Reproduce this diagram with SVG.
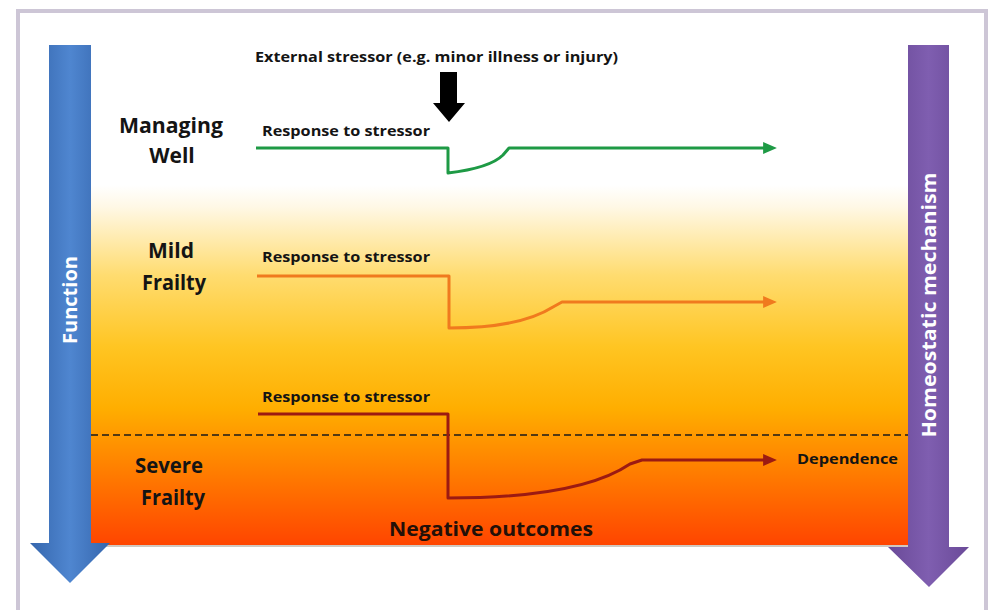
<svg xmlns="http://www.w3.org/2000/svg" width="992" height="610" viewBox="0 0 992 610">
<defs>
<linearGradient id="bg" x1="0" y1="0" x2="0" y2="1">
<stop offset="0" stop-color="#ffffff"/>
<stop offset="0.06" stop-color="#fff8e6"/>
<stop offset="0.25" stop-color="#ffdc70"/>
<stop offset="0.45" stop-color="#ffc522"/>
<stop offset="0.62" stop-color="#ffae00"/>
<stop offset="0.75" stop-color="#ff8a00"/>
<stop offset="1" stop-color="#ff4500"/>
</linearGradient>
<linearGradient id="blue" x1="0" y1="0" x2="1" y2="0">
<stop offset="0" stop-color="#3566ad"/>
<stop offset="0.5" stop-color="#4f86d0"/>
<stop offset="1" stop-color="#3566ad"/>
</linearGradient>
<linearGradient id="purple" x1="0" y1="0" x2="1" y2="0">
<stop offset="0" stop-color="#6a4a98"/>
<stop offset="0.5" stop-color="#7f5eb0"/>
<stop offset="1" stop-color="#6a4a98"/>
</linearGradient>
<marker id="mg" markerWidth="4.6" markerHeight="4" refX="0.3" refY="2" orient="auto" markerUnits="strokeWidth" viewBox="0 0 4.6 4"><path d="M0,0 L4.6,2 L0,4 Z" fill="#1e9a45"/></marker>
<marker id="mo" markerWidth="4.6" markerHeight="4" refX="0.3" refY="2" orient="auto" markerUnits="strokeWidth" viewBox="0 0 4.6 4"><path d="M0,0 L4.6,2 L0,4 Z" fill="#f07a1e"/></marker>
<marker id="mr" markerWidth="4.6" markerHeight="4" refX="0.3" refY="2" orient="auto" markerUnits="strokeWidth" viewBox="0 0 4.6 4"><path d="M0,0 L4.6,2 L0,4 Z" fill="#9c1a12"/></marker>
<style>
.t{font-family:"Open Sans","Liberation Sans",sans-serif;font-weight:bold;fill:#141414}
.lab{font-size:21px;text-anchor:middle}
.resp{font-size:14px}
.side{font-size:20px;fill:#ffffff;text-anchor:middle}
.ln{fill:none;stroke-width:3;stroke-linejoin:round}
</style>
</defs>
<rect x="0" y="0" width="992" height="610" fill="#ffffff"/>
<rect x="18" y="11" width="968" height="640" fill="#ffffff" stroke="#cdc6d6" stroke-width="4"/>
<g id="background">
<rect x="91" y="185" width="817" height="360" fill="url(#bg)"/>
<line x1="91" y1="546" x2="908" y2="546" stroke="#d0c8c0" stroke-width="2"/>
<line x1="91" y1="435" x2="908" y2="435" stroke="#1a1a1a" stroke-width="1.5" stroke-dasharray="7,4"/>
</g>
<g id="function-axis">
<polygon points="49,45 91,45 91,543 110,543 70,583 30,543 49,543" fill="url(#blue)"/>
<text class="t side" transform="translate(77,300) rotate(-90)" textLength="88" lengthAdjust="spacingAndGlyphs">Function</text>
</g>
<g id="homeostatic-axis">
<polygon points="908,45 949,45 949,547 969,547 929,587 888,547 908,547" fill="url(#purple)"/>
<text class="t side" transform="translate(936,305) rotate(-90)" textLength="265" lengthAdjust="spacingAndGlyphs">Homeostatic mechanism</text>
</g>
<g id="stressor">
<text class="t" x="255" y="62" font-size="15" textLength="363" lengthAdjust="spacingAndGlyphs">External stressor (e.g. minor illness or injury)</text>
<polygon points="440,72 457,72 457,103 465,103 449,122 433,103 440,103" fill="#000000"/>
</g>
<g id="managing-well">
<text class="t lab" x="171" y="133" textLength="104" lengthAdjust="spacingAndGlyphs">Managing</text>
<text class="t lab" x="172" y="163">Well</text>
<text class="t resp" x="262" y="136" textLength="168" lengthAdjust="spacingAndGlyphs">Response to stressor</text>
</g>
<g id="mild-frailty">
<text class="t lab" x="171" y="258">Mild</text>
<text class="t lab" x="174" y="290" textLength="64" lengthAdjust="spacingAndGlyphs">Frailty</text>
<text class="t resp" x="262" y="262" textLength="168" lengthAdjust="spacingAndGlyphs">Response to stressor</text>
</g>
<g id="severe-frailty">
<text class="t lab" x="169" y="473" textLength="68" lengthAdjust="spacingAndGlyphs">Severe</text>
<text class="t lab" x="173" y="505" textLength="64" lengthAdjust="spacingAndGlyphs">Frailty</text>
<text class="t resp" x="262" y="402" textLength="168" lengthAdjust="spacingAndGlyphs">Response to stressor</text>
<text class="t resp" x="797" y="464" textLength="101" lengthAdjust="spacingAndGlyphs">Dependence</text>
<text class="t" x="491" y="536" font-size="20" text-anchor="middle" textLength="204" lengthAdjust="spacingAndGlyphs" style="fill:#231008">Negative outcomes</text>
</g>
<g id="connectors">
<path class="ln" stroke="#1e9a45" d="M256,148 L448,148 L448,173 Q490,168 503,155 L509,148 L764,148" marker-end="url(#mg)"/>
<path class="ln" stroke="#f07a1e" d="M257,276 L449,276 L449,328 Q520,328 553,307 L562,302 L764,302" marker-end="url(#mo)"/>
<path class="ln" stroke="#9c1a12" d="M258,414 L448,414 L448,498 Q580,498 630,464 L642,460 L764,460" marker-end="url(#mr)"/>
</g>
</svg>
